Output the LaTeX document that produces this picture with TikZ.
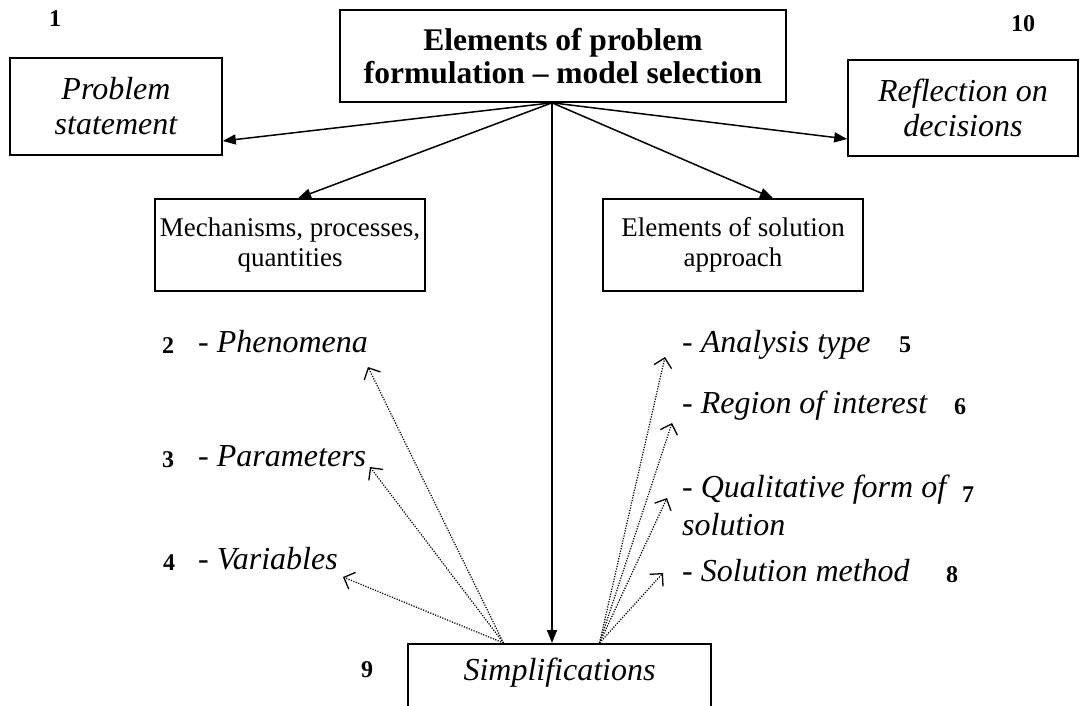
\documentclass[tikz,border=0pt]{standalone}
\usepackage{fontspec}
\setmainfont{Liberation Serif}
\usetikzlibrary{arrows.meta}
\begin{document}
\begin{tikzpicture}[x=1pt,y=-1pt,
  box/.style={draw,line width=1.6pt,inner sep=0pt,align=center},
  reg/.style={font=\fontsize{27}{30}\selectfont},
  ital/.style={font=\fontsize{32}{35}\selectfont\itshape},
  bld/.style={font=\fontsize{31.5}{33}\selectfont\bfseries},
  num/.style={font=\fontsize{24}{28}\selectfont\bfseries,anchor=base,inner sep=0pt},
  item/.style={font=\fontsize{32}{38}\selectfont\itshape,anchor=base west,inner sep=0pt,align=left},
  mainarrow/.style={line width=1.5pt,-{Triangle[length=13pt,width=10pt]}},
  dotarrow/.style={line width=1.2pt,dash pattern=on 1.2pt off 1.4pt,-{Straight Barb[length=9pt,width=18pt,line width=1.3pt]}}
]
\useasboundingbox (0,0) rectangle (1080,706);
\clip (0,0) rectangle (1080,706);

% boxes
\node[box,bld,minimum width=446pt,minimum height=92pt] (top) at (563,56) {Elements of problem\\formulation -- model selection};
\node[box,ital,minimum width=212pt,minimum height=97pt] (ps) at (116,106.5) {Problem\\statement};
\node[box,ital,minimum width=230pt,minimum height=96pt] (rd) at (963,108) {Reflection on\\decisions};
\node[box,reg,minimum width=270pt,minimum height=92pt] (mech) at (290,245) {Mechanisms, processes,\\quantities};
\node[box,reg,minimum width=260pt,minimum height=92pt] (sol) at (733,245) {Elements of solution\\approach};
\node[box,ital,minimum width=303pt,text height=37pt,text depth=60pt,inner ysep=0pt,anchor=north] (simp) at (559.5,643) {Simplifications};

% numbers
\node[num] (n1) at (55,27) {1};
\node[num] (n10) at (1023,32) {10};
\node[num] (n2) at (168,353) {2};
\node[num] (n3) at (168,467) {3};
\node[num] (n4) at (169,570) {4};
\node[num] (n5) at (905,352) {5};
\node[num] (n6) at (960,414) {6};
\node[num] (n7) at (968,502) {7};
\node[num] (n8) at (952,582) {8};
\node[num] (n9) at (367,677) {9};

% list items
\node[item] (phe) at (198,352) {{\upshape -} Phenomena};
\node[item] (par) at (198,466) {{\upshape -} Parameters};
\node[item] (var) at (198,569) {{\upshape -} Variables};
\node[item] (ana) at (682,352) {{\upshape -} Analysis type};
\node[item] (reg) at (682,413) {{\upshape -} Region of interest};
\node[item] (qual) at (682,535) {{\upshape -} Qualitative form of\\solution};
\node[item] (meth) at (682,581) {{\upshape -} Solution method};

% connectors
\coordinate (apex) at ([xshift=-11pt]top.south);
\draw[mainarrow] (apex) -- ([yshift=-34.5pt]ps.east);
\draw[mainarrow] (apex) -- ([yshift=-31pt]rd.west);
\draw[mainarrow] (apex) -- ([xshift=8pt]mech.north);
\draw[mainarrow] (apex) -- ([xshift=40pt]sol.north);
\draw[mainarrow] (apex) -- (apex |- simp.north);

\coordinate (sL) at ([xshift=-56pt]simp.north);
\coordinate (sR) at ([xshift=40pt]simp.north);
\coordinate (tphe) at (368,367);
\coordinate (tpar) at (370,467);
\coordinate (tvar) at (343,577);
\coordinate (tana) at (665,357);
\coordinate (treg) at (672,423);
\coordinate (tqual) at (667,498);
\coordinate (tmeth) at (663,573);
\draw[dotarrow] (sL) -- (tphe);
\draw[dotarrow] (sL) -- (tpar);
\draw[dotarrow] (sL) -- (tvar);
\draw[dotarrow] (sR) -- (tana);
\draw[dotarrow] (sR) -- (treg);
\draw[dotarrow] (sR) -- (tqual);
\draw[dotarrow] (sR) -- (tmeth);
\end{tikzpicture}
\end{document}
